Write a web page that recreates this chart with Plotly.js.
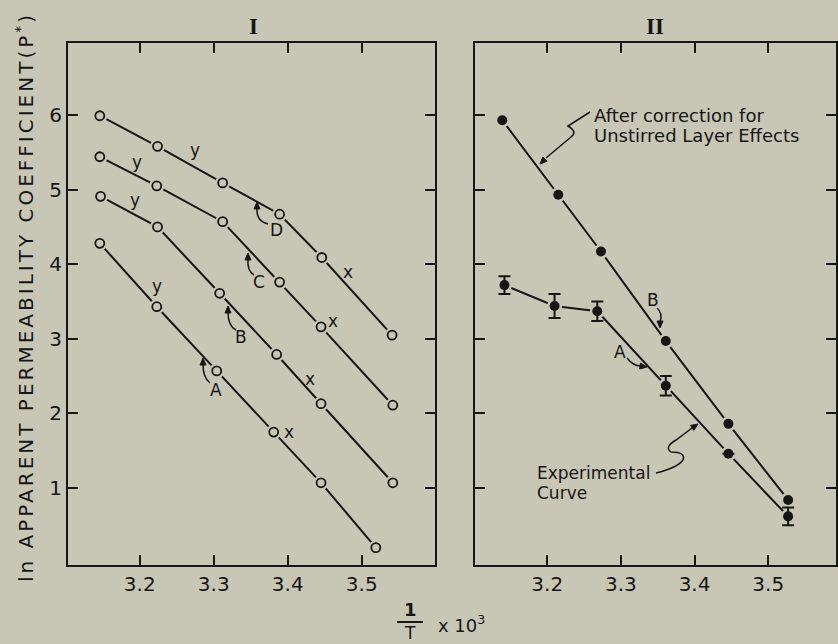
<!DOCTYPE html>
<html>
<head>
<meta charset="utf-8">
<script src="https://cdn.plot.ly/plotly-3.0.1.min.js"></script>
<style>html,body{margin:0;padding:0;background:#c8c6b4;}#chart{width:838px;height:644px;}</style>
</head>
<body>
<div id="chart"></div>
<script>
// ---- Data ----
// Panel I : four curves A-D, open circles
const xA = [3.146, 3.223, 3.304, 3.381, 3.445, 3.519];
const yA = [4.28, 3.43, 2.57, 1.75, 1.07, 0.20];
const xB = [3.147, 3.224, 3.308, 3.385, 3.445, 3.542];
const yB = [4.91, 4.50, 3.61, 2.79, 2.13, 1.07];
const xC = [3.146, 3.223, 3.312, 3.389, 3.445, 3.542];
const yC = [5.44, 5.05, 4.57, 3.76, 3.16, 2.11];
const xD = [3.146, 3.224, 3.312, 3.389, 3.446, 3.541];
const yD = [5.99, 5.58, 5.09, 4.67, 4.09, 3.05];
// Panel II : corrected curve (B) and experimental curve (A) with error bars
const xCorr = [3.139, 3.215, 3.273, 3.361, 3.446, 3.527];
const yCorr = [5.93, 4.93, 4.17, 2.97, 1.86, 0.84];
const xExp = [3.142, 3.210, 3.268, 3.361, 3.446, 3.527];
const yExp = [3.72, 3.44, 3.37, 2.37, 1.46, 0.62];
const errExp = [0.12, 0.16, 0.13, 0.13, 0, 0.12];
const xTicks = [3.2, 3.3, 3.4, 3.5];
const xTickText = ['3.2', '3.3', '3.4', '3.5'];
const yTicks = [1, 2, 3, 4, 5, 6];
const yTickText = ['1', '2', '3', '4', '5', '6'];

// ---- Styles ----
const BG = '#c8c6b4';
const INK = '#161616';
const FONT = 'DejaVu Sans, Liberation Sans, sans-serif';
const W = 838, H = 644;
const px = v => v / W;
const py = v => 1 - v / H;

function lineTrace(x, y, xa, ya) {
  return {x, y, xaxis: xa, yaxis: ya, mode: 'lines', type: 'scatter',
    line: {color: INK, width: 2}, hoverinfo: 'skip', showlegend: false};
}
function haloTrace(x, y, xa, ya, size) {
  return {x, y, xaxis: xa, yaxis: ya, mode: 'markers', type: 'scatter',
    marker: {color: BG, size: size, line: {width: 0}}, hoverinfo: 'skip', showlegend: false};
}
function openTrace(x, y) {
  return {x, y, xaxis: 'x', yaxis: 'y', mode: 'markers', type: 'scatter',
    marker: {symbol: 'circle-open', color: INK, size: 9, line: {width: 1.8, color: INK}},
    showlegend: false};
}

const traces = [];
[[xA, yA], [xB, yB], [xC, yC], [xD, yD]].forEach(([x, y]) => {
  traces.push(lineTrace(x, y, 'x', 'y'));
  traces.push(haloTrace(x, y, 'x', 'y', 15));
  traces.push(openTrace(x, y));
});
traces.push(lineTrace(xCorr, yCorr, 'x2', 'y2'));
traces.push(lineTrace(xExp, yExp, 'x2', 'y2'));
traces.push(haloTrace(xCorr, yCorr, 'x2', 'y2', 15));
traces.push(haloTrace(xExp, yExp, 'x2', 'y2', 15));
traces.push({x: xCorr, y: yCorr, xaxis: 'x2', yaxis: 'y2', mode: 'markers', type: 'scatter',
  marker: {color: INK, size: 10}, showlegend: false});
traces.push({x: xExp, y: yExp, xaxis: 'x2', yaxis: 'y2', mode: 'markers', type: 'scatter',
  marker: {color: INK, size: 10},
  error_y: {type: 'data', array: errExp, visible: true, color: INK, thickness: 2, width: 6},
  showlegend: false});

const axisCommon = {
  showline: true, linecolor: INK, linewidth: 2, mirror: 'ticks',
  ticks: 'inside', ticklen: 10, tickwidth: 2, tickcolor: INK,
  showgrid: false, zeroline: false, fixedrange: true,
  tickfont: {family: FONT, size: 20, color: INK}
};
const yDom = [1 - 565 / H, 1 - 43 / H];

const txt = (x, y, text, size, extra) => Object.assign({
  xref: 'paper', yref: 'paper', x: px(x), y: py(y), text: text, showarrow: false,
  font: {family: FONT, size: size || 17, color: INK}, xanchor: 'center', yanchor: 'middle'
}, extra || {});

function pathStr(cmds) {
  return cmds.map(c => {
    const out = [c[0]];
    for (let i = 1; i < c.length; i += 2) out.push(px(c[i]).toFixed(5) + ',' + py(c[i + 1]).toFixed(5));
    return out.join(' ');
  }).join(' ');
}
function pathShape(cmds) {
  return {type: 'path', xref: 'paper', yref: 'paper', path: pathStr(cmds),
    line: {color: INK, width: 1.5}, fillcolor: 'rgba(0,0,0,0)'};
}
// filled arrowhead: tip (tx,ty), pointing away from (fx,fy)
function headShape(tx, ty, fx, fy) {
  const dx = tx - fx, dy = ty - fy, L = Math.hypot(dx, dy);
  const ux = dx / L, uy = dy / L, nx = -uy, ny = ux;
  const len = 7, hw = 3;
  const bx = tx - ux * len, by = ty - uy * len;
  return {type: 'path', xref: 'paper', yref: 'paper',
    path: pathStr([['M', tx, ty], ['L', bx + nx * hw, by + ny * hw], ['L', bx - nx * hw, by - ny * hw], ['Z']]),
    line: {color: INK, width: 1}, fillcolor: INK};
}

const annotations = [
  txt(25, 297, 'ln APPARENT PERMEABILITY COEFFICIENT(P<sup>*</sup>)', 20, {textangle: -90}),
  txt(253, 27, 'I', 23, {font: {family: 'Liberation Serif, serif', size: 23, color: INK, weight: 'bold'}}),
  txt(655, 27, 'II', 23, {font: {family: 'Liberation Serif, serif', size: 23, color: INK, weight: 'bold'}}),
  // x-axis title: 1/T x 10^3
  txt(410, 609, '1', 18, {font: {family: FONT, size: 18, color: INK, weight: 'bold'}}),
  txt(410, 633, 'T', 17),
  txt(436, 624, 'x 10<sup>3</sup>', 18, {xanchor: 'left'}),
  // y / x labels panel I
  txt(195, 150, 'y'), txt(348, 272, 'x'),
  txt(137, 162, 'y'), txt(333, 321, 'x'),
  txt(135, 200, 'y'), txt(310, 379, 'x'),
  txt(157, 286, 'y'), txt(289, 432, 'x'),
  // curve letters panel I
  txt(276, 230, 'D'), txt(259, 282, 'C'), txt(241, 337, 'B'), txt(216, 390, 'A'),
  // panel II
  txt(592, 115, 'After correction for', 18, {xanchor: 'left'}),
  txt(592, 135, 'Unstirred Layer Effects', 18, {xanchor: 'left'}),
  txt(535, 473, 'Experimental', 17, {xanchor: 'left'}),
  txt(535, 493, 'Curve', 17, {xanchor: 'left'}),
  txt(620, 352, 'A'), txt(653, 300, 'B')
];

const shapes = [
  // fraction bar of 1/T
  {type: 'line', xref: 'paper', yref: 'paper', x0: px(397), x1: px(423), y0: py(622), y1: py(622),
    line: {color: INK, width: 2}},
  // curved pointer arrows, panel I
  pathShape([['M', 257, 208], ['Q', 256, 221, 268, 224]]), headShape(257, 202, 257, 209),
  pathShape([['M', 248, 259], ['Q', 247, 271, 254, 275]]), headShape(248, 253, 248, 260),
  pathShape([['M', 228, 312], ['Q', 228, 326, 236, 330]]), headShape(228, 306, 228, 313),
  pathShape([['M', 203, 364], ['Q', 203, 378, 210, 383]]), headShape(203, 358, 203, 365),
  // panel II pointers
  pathShape([['M', 627, 358], ['Q', 633, 366, 641, 366]]), headShape(647, 367, 640, 366),
  pathShape([['M', 657, 308], ['Q', 663, 313, 660, 322]]), headShape(660, 328, 660, 321),
  pathShape([['M', 590, 112], ['L', 568, 126], ['Q', 578, 132, 571, 137], ['L', 546, 158]]),
  headShape(540, 164, 546, 158),
  pathShape([['M', 656, 473], ['Q', 677, 468, 683, 460], ['Q', 686, 452, 671, 452], ['Q', 664, 447, 676, 440], ['L', 692, 428]]),
  headShape(698, 424, 692, 428)
];

const layout = {
  width: W, height: H,
  margin: {l: 0, r: 0, t: 0, b: 0},
  paper_bgcolor: BG, plot_bgcolor: BG,
  showlegend: false,
  xaxis: Object.assign({}, axisCommon, {domain: [68 / W, 435 / W], range: [3.103, 3.599],
    tickvals: xTicks, ticktext: xTickText, anchor: 'y'}),
  yaxis: Object.assign({}, axisCommon, {domain: yDom, range: [-0.032, 6.965],
    tickvals: yTicks, ticktext: yTickText, anchor: 'x'}),
  xaxis2: Object.assign({}, axisCommon, {domain: [475 / W, 836 / W], range: [3.102, 3.592],
    tickvals: xTicks, ticktext: xTickText, anchor: 'y2'}),
  yaxis2: Object.assign({}, axisCommon, {domain: yDom, range: [-0.032, 6.965],
    tickvals: yTicks, ticktext: yTickText, showticklabels: false, anchor: 'x2'}),
  annotations: annotations,
  shapes: shapes
};

Plotly.newPlot('chart', traces, layout, {displayModeBar: false, staticPlot: true}).then(gd => {
  gd.querySelectorAll('text.annotation-text').forEach(t => {
    if (t.textContent.indexOf('APPARENT') >= 0) t.style.letterSpacing = '3px';
  });
});
</script>
</body>
</html>
